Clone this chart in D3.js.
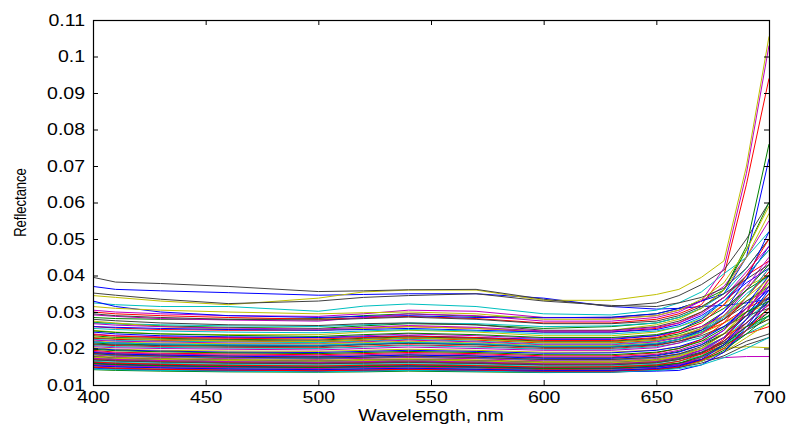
<!DOCTYPE html>
<html>
<head>
<meta charset="utf-8">
<script src="https://cdn.jsdelivr.net/npm/d3@7"></script>
<style>
  body { margin: 0; background: #fff; }
  svg { display: block; }
  text { font-family: "Liberation Sans", Arial, Helvetica, sans-serif; fill: #000; }
</style>
</head>
<body>
<svg id="chart" width="789" height="427"></svg>
<script>
// Sampled wavelengths (nm) shared by every spectrum
const wavelengths = [400, 410, 430, 460, 500, 520, 540, 570, 600, 630, 650, 660, 670, 680, 690, 700];

// Reflectance spectra, one row per sample
const batch1 = [
  [.0370,.0362,.0358,.0353,.0346,.0348,.0350,.0350,.0338,.0315,.0308,.0310,.0315,.0318,.0325,.0335],
  [.0285,.0282,.0280,.0280,.0282,.0290,.0295,.0288,.0285,.0285,.0295,.0310,.0330,.0360,.0480,.0760],
  [.0300,.0295,.0290,.0285,.0280,.0284,.0288,.0282,.0270,.0270,.0280,.0295,.0320,.0400,.0650,.0940],
  [.0325,.0320,.0315,.0315,.0302,.0316,.0322,.0315,.0295,.0292,.0305,.0325,.0355,.0405,.0450,.0520],
  [.0305,.0300,.0295,.0290,.0288,.0295,.0305,.0302,.0285,.0283,.0290,.0305,.0330,.0370,.0450,.0550],
  [.0345,.0340,.0330,.0320,.0338,.0355,.0360,.0360,.0332,.0332,.0348,.0362,.0395,.0440,.0700,.1055],
  [.0395,.0382,.0378,.0370,.0356,.0358,.0361,.0362,.0335,.0315,.0325,.0345,.0375,.0415,.0500,.0600],
  [.0330,.0315,.0300,.0290,.0285,.0288,.0290,.0285,.0284,.0286,.0295,.0310,.0330,.0350,.0450,.0720],
  [.0272,.0268,.0262,.0258,.0255,.0262,.0268,.0265,.0255,.0260,.0270,.0285,.0310,.0360,.0470,.0600],
  [.0260,.0256,.0252,.0250,.0250,.0255,.0260,.0255,.0245,.0245,.0255,.0270,.0300,.0340,.0400,.0440],
  [.0270,.0268,.0265,.0262,.0260,.0265,.0270,.0268,.0260,.0262,.0270,.0285,.0310,.0350,.0420,.0500],
  [.0292,.0288,.0282,.0278,.0275,.0285,.0295,.0290,.0275,.0275,.0285,.0300,.0330,.0420,.0680,.1030],
  [.0275,.0270,.0260,.0253,.0250,.0255,.0260,.0255,.0248,.0250,.0265,.0280,.0310,.0360,.0450,.0570],
  [.0352,.0346,.0335,.0323,.0330,.0340,.0345,.0350,.0330,.0318,.0315,.0325,.0340,.0365,.0420,.0500]
];

const batch2 = [
  [.0260,.0258,.0255,.0252,.0250,.0252,.0255,.0250,.0245,.0245,.0252,.0265,.0290,.0330,.0380,.0420],
  [.0235,.0230,.0228,.0225,.0223,.0228,.0232,.0228,.0220,.0220,.0228,.0240,.0260,.0300,.0360,.0430],
  [.0228,.0225,.0222,.0220,.0218,.0222,.0228,.0223,.0215,.0215,.0222,.0230,.0245,.0270,.0310,.0340],
  [.0225,.0222,.0220,.0218,.0216,.0220,.0225,.0220,.0212,.0212,.0220,.0230,.0250,.0290,.0350,.0400],
  [.0240,.0235,.0232,.0230,.0230,.0235,.0240,.0235,.0228,.0228,.0235,.0245,.0260,.0290,.0330,.0360],
  [.0250,.0245,.0240,.0238,.0238,.0245,.0250,.0245,.0235,.0235,.0245,.0260,.0280,.0320,.0370,.0400],
  [.0280,.0276,.0270,.0265,.0263,.0268,.0270,.0265,.0250,.0250,.0260,.0275,.0300,.0340,.0400,.0470],
  [.0245,.0240,.0235,.0232,.0230,.0232,.0235,.0230,.0225,.0225,.0235,.0250,.0280,.0330,.0390,.0480],
  [.0215,.0212,.0210,.0208,.0208,.0212,.0215,.0212,.0205,.0206,.0213,.0225,.0245,.0280,.0330,.0370],
  [.0210,.0208,.0205,.0203,.0202,.0206,.0210,.0206,.0200,.0200,.0208,.0220,.0240,.0280,.0340,.0410],
  [.0208,.0205,.0203,.0201,.0200,.0204,.0208,.0204,.0198,.0198,.0205,.0215,.0230,.0260,.0300,.0340],
  [.0223,.0220,.0218,.0215,.0213,.0218,.0223,.0218,.0210,.0210,.0218,.0230,.0255,.0300,.0370,.0450],
  [.0220,.0217,.0215,.0213,.0212,.0216,.0220,.0215,.0208,.0208,.0215,.0225,.0240,.0270,.0300,.0320],
  [.0230,.0227,.0225,.0223,.0220,.0225,.0230,.0226,.0218,.0218,.0225,.0235,.0250,.0280,.0320,.0380]
];

const batch3 = [
  [.0218,.0215,.0212,.0210,.0208,.0212,.0216,.0212,.0205,.0205,.0212,.0225,.0250,.0300,.0390,.0520],
  [.0190,.0186,.0183,.0180,.0178,.0180,.0183,.0180,.0175,.0175,.0182,.0192,.0210,.0240,.0290,.0350],
  [.0187,.0183,.0180,.0176,.0173,.0175,.0178,.0175,.0170,.0170,.0176,.0185,.0200,.0230,.0270,.0320],
  [.0184,.0180,.0177,.0174,.0172,.0174,.0176,.0173,.0168,.0168,.0174,.0183,.0200,.0230,.0280,.0330],
  [.0205,.0202,.0200,.0198,.0196,.0200,.0204,.0200,.0195,.0195,.0202,.0215,.0240,.0290,.0360,.0440],
  [.0202,.0198,.0195,.0193,.0192,.0195,.0198,.0195,.0190,.0190,.0196,.0205,.0220,.0240,.0260,.0280],
  [.0212,.0210,.0208,.0206,.0205,.0210,.0214,.0210,.0203,.0203,.0210,.0220,.0235,.0260,.0290,.0310],
  [.0200,.0196,.0193,.0190,.0189,.0192,.0195,.0192,.0187,.0188,.0195,.0205,.0225,.0260,.0310,.0360],
  [.0172,.0169,.0166,.0163,.0161,.0163,.0165,.0162,.0158,.0158,.0164,.0172,.0188,.0215,.0260,.0310],
  [.0170,.0167,.0164,.0161,.0159,.0161,.0163,.0160,.0156,.0156,.0162,.0170,.0185,.0210,.0240,.0260],
  [.0168,.0165,.0162,.0159,.0157,.0159,.0161,.0158,.0154,.0155,.0160,.0170,.0190,.0230,.0290,.0350],
  [.0182,.0178,.0175,.0172,.0170,.0173,.0175,.0172,.0166,.0166,.0172,.0180,.0195,.0220,.0260,.0300],
  [.0180,.0176,.0173,.0170,.0168,.0170,.0172,.0169,.0164,.0165,.0170,.0180,.0200,.0240,.0300,.0380],
  [.0178,.0174,.0171,.0168,.0166,.0168,.0170,.0167,.0162,.0162,.0168,.0175,.0190,.0215,.0250,.0280]
];

const batch4 = [
  [.0175,.0172,.0169,.0166,.0164,.0166,.0168,.0165,.0160,.0160,.0166,.0175,.0195,.0230,.0290,.0370],
  [.0158,.0155,.0152,.0149,.0147,.0149,.0151,.0148,.0144,.0145,.0150,.0158,.0175,.0205,.0250,.0300],
  [.0156,.0153,.0150,.0147,.0145,.0147,.0149,.0146,.0142,.0143,.0148,.0158,.0180,.0220,.0280,.0350],
  [.0154,.0151,.0148,.0145,.0143,.0145,.0147,.0144,.0140,.0141,.0146,.0154,.0170,.0200,.0240,.0270],
  [.0155,.0153,.0150,.0148,.0146,.0148,.0150,.0148,.0145,.0146,.0150,.0158,.0168,.0175,.0178,.0178],
  [.0164,.0161,.0158,.0155,.0153,.0155,.0157,.0154,.0150,.0151,.0156,.0165,.0180,.0200,.0205,.0202],
  [.0162,.0159,.0156,.0153,.0151,.0153,.0155,.0152,.0148,.0149,.0154,.0160,.0170,.0190,.0220,.0240],
  [.0160,.0157,.0154,.0151,.0149,.0151,.0153,.0150,.0146,.0146,.0150,.0155,.0165,.0190,.0250,.0330],
  [.0142,.0140,.0138,.0136,.0135,.0136,.0138,.0136,.0134,.0135,.0140,.0148,.0165,.0195,.0240,.0290],
  [.0195,.0190,.0187,.0185,.0183,.0186,.0189,.0186,.0180,.0180,.0188,.0200,.0225,.0270,.0340,.0420],
  [.0165,.0162,.0159,.0156,.0154,.0156,.0158,.0155,.0151,.0152,.0157,.0165,.0180,.0210,.0250,.0290],
  [.0152,.0149,.0146,.0143,.0141,.0143,.0145,.0142,.0139,.0140,.0145,.0155,.0175,.0210,.0270,.0320],
  [.0150,.0147,.0144,.0141,.0140,.0141,.0143,.0141,.0138,.0139,.0143,.0150,.0165,.0190,.0230,.0270],
  [.0148,.0145,.0142,.0140,.0138,.0140,.0142,.0140,.0137,.0138,.0142,.0148,.0160,.0180,.0210,.0230]
];

const batch5 = [
  [.0146,.0143,.0141,.0139,.0137,.0139,.0141,.0139,.0136,.0136,.0138,.0140,.0155,.0190,.0260,.0340],
  [.0159,.0156,.0153,.0150,.0148,.0150,.0152,.0149,.0145,.0146,.0152,.0160,.0178,.0210,.0260,.0290],
  [.0163,.0160,.0157,.0154,.0152,.0154,.0156,.0153,.0149,.0150,.0155,.0165,.0185,.0225,.0300,.0390],
  [.0144,.0142,.0140,.0138,.0136,.0138,.0140,.0138,.0135,.0136,.0140,.0145,.0155,.0175,.0200,.0230],
  [.0173,.0170,.0167,.0164,.0162,.0164,.0166,.0163,.0159,.0159,.0165,.0175,.0195,.0230,.0300,.0390],
  [.0176,.0173,.0170,.0167,.0165,.0167,.0169,.0166,.0161,.0161,.0167,.0178,.0200,.0240,.0310,.0400],
  [.0169,.0166,.0163,.0160,.0158,.0160,.0162,.0159,.0155,.0155,.0161,.0170,.0188,.0220,.0270,.0330],
  [.0189,.0185,.0182,.0179,.0176,.0179,.0182,.0179,.0173,.0173,.0180,.0190,.0210,.0250,.0320,.0400],
  [.0248,.0244,.0240,.0236,.0233,.0238,.0242,.0238,.0230,.0230,.0238,.0250,.0275,.0310,.0360,.0400],
  [.0149,.0146,.0143,.0141,.0139,.0141,.0143,.0141,.0138,.0138,.0143,.0150,.0168,.0200,.0250,.0310],
  [.0255,.0252,.0248,.0245,.0243,.0248,.0252,.0248,.0240,.0240,.0248,.0260,.0285,.0330,.0400,.0470],
  [.0268,.0264,.0260,.0256,.0253,.0258,.0263,.0258,.0248,.0248,.0258,.0270,.0295,.0340,.0410,.0480],
  [.0315,.0310,.0305,.0300,.0295,.0298,.0300,.0295,.0280,.0280,.0290,.0305,.0335,.0380,.0470,.0590],
  [.0295,.0290,.0285,.0280,.0278,.0282,.0286,.0280,.0268,.0268,.0275,.0290,.0315,.0350,.0390,.0430]
];

const batch6 = [
  [.0153,.0150,.0147,.0144,.0142,.0144,.0146,.0143,.0140,.0140,.0145,.0152,.0170,.0210,.0280,.0360],
  [.0198,.0194,.0191,.0188,.0186,.0189,.0192,.0189,.0183,.0183,.0190,.0200,.0220,.0255,.0300,.0330],
  [.0238,.0234,.0230,.0228,.0226,.0230,.0234,.0230,.0222,.0222,.0230,.0245,.0270,.0320,.0400,.0500],
  [.0218,.0215,.0212,.0210,.0209,.0213,.0217,.0213,.0206,.0206,.0214,.0225,.0245,.0285,.0340,.0420],
  [.0192,.0188,.0185,.0182,.0180,.0183,.0186,.0183,.0177,.0177,.0184,.0195,.0215,.0250,.0310,.0370],
  [.0232,.0228,.0224,.0221,.0219,.0224,.0229,.0225,.0217,.0217,.0224,.0235,.0255,.0290,.0340,.0390],
  [.0186,.0182,.0179,.0176,.0174,.0176,.0179,.0176,.0170,.0170,.0176,.0185,.0205,.0240,.0290,.0340]
];

const spectra = [...batch1, ...batch2, ...batch3, ...batch4, ...batch5, ...batch6];

// Axis ticks and labels
const xTicks = [400, 450, 500, 550, 600, 650, 700];
const yTicks = [0.01, 0.02, 0.03, 0.04, 0.05, 0.06, 0.07, 0.08, 0.09, 0.1, 0.11];
const yTickLabels = ["0.01", "0.02", "0.03", "0.04", "0.05", "0.06", "0.07", "0.08", "0.09", "0.1", "0.11"];
const xTitle = "Wavelemgth, nm";
const yTitle = "Reflectance";

// Classic MATLAB line colour order, cycled per spectrum
const colorOrder = ["#0000ff", "#008000", "#ff0000", "#00bfbf", "#bf00bf", "#bfbf00", "#404040"];

const svg = d3.select("#chart");
const plot = { left: 93, top: 20, right: 769, bottom: 385 };
const textStretch = 1.22;
const fontSize = 16;

const x = d3.scaleLinear().domain([400, 700]).range([plot.left, plot.right]);
const y = d3.scaleLinear().domain([0.01, 0.11]).range([plot.bottom, plot.top]);
const color = d3.scaleOrdinal().domain(d3.range(colorOrder.length)).range(colorOrder);

svg.append("defs").append("clipPath").attr("id", "plot-clip")
  .append("rect")
  .attr("x", plot.left).attr("y", plot.top)
  .attr("width", plot.right - plot.left).attr("height", plot.bottom - plot.top);

svg.append("rect")
  .attr("x", plot.left).attr("y", plot.top)
  .attr("width", plot.right - plot.left).attr("height", plot.bottom - plot.top)
  .attr("fill", "#fff");

const line = d3.line()
  .x((d, i) => x(wavelengths[i]))
  .y(d => y(d));

svg.append("g")
  .attr("clip-path", "url(#plot-clip)")
  .selectAll("path")
  .data(spectra)
  .join("path")
  .attr("d", line)
  .attr("fill", "none")
  .attr("stroke", (d, i) => color(i % colorOrder.length))
  .attr("stroke-width", 1)
  .attr("stroke-linejoin", "round");

// Inward ticks on all four sides, labels on bottom and left
function styleAxis(g) {
  g.select(".domain").remove();
  g.selectAll(".tick line").attr("stroke", "#000").attr("stroke-width", 1);
}

svg.append("g")
  .attr("transform", `translate(0,${plot.bottom})`)
  .call(d3.axisBottom(x).tickValues(xTicks).tickSize(-5).tickPadding(7).tickFormat(d3.format("d")))
  .call(styleAxis)
  .call(g => g.selectAll(".tick text")
    .attr("font-size", fontSize)
    .attr("fill", "#000")
    .attr("transform", `scale(${textStretch},1)`));

svg.append("g")
  .attr("transform", `translate(0,${plot.top})`)
  .call(d3.axisTop(x).tickValues(xTicks).tickSize(-5).tickFormat(""))
  .call(styleAxis);

svg.append("g")
  .attr("transform", `translate(${plot.left},0)`)
  .call(d3.axisLeft(y).tickValues(yTicks).tickSize(-5)
    .tickFormat((d, i) => yTickLabels[i]))
  .call(styleAxis)
  .call(g => g.selectAll(".tick text")
    .attr("font-size", fontSize)
    .attr("fill", "#000")
    .attr("x", -8 / textStretch)
    .attr("transform", `scale(${textStretch},1)`));

svg.append("g")
  .attr("transform", `translate(${plot.right},0)`)
  .call(d3.axisRight(y).tickValues(yTicks).tickSize(-5).tickFormat(""))
  .call(styleAxis);

// Axes box
svg.append("rect")
  .attr("x", plot.left + 0.5).attr("y", plot.top + 0.5)
  .attr("width", plot.right - plot.left).attr("height", plot.bottom - plot.top)
  .attr("fill", "none")
  .attr("stroke", "#000")
  .attr("stroke-width", 1.2);

// Axis titles
svg.append("text")
  .attr("transform", `translate(${(plot.left + plot.right) / 2},421) scale(${textStretch},1)`)
  .attr("text-anchor", "middle")
  .attr("font-size", fontSize)
  .text(xTitle);

svg.append("text")
  .attr("transform", `translate(26,${(plot.top + plot.bottom) / 2}) scale(${textStretch},1) rotate(-90)`)
  .attr("text-anchor", "middle")
  .attr("font-size", 13)
  .text(yTitle);
</script>
</body>
</html>
